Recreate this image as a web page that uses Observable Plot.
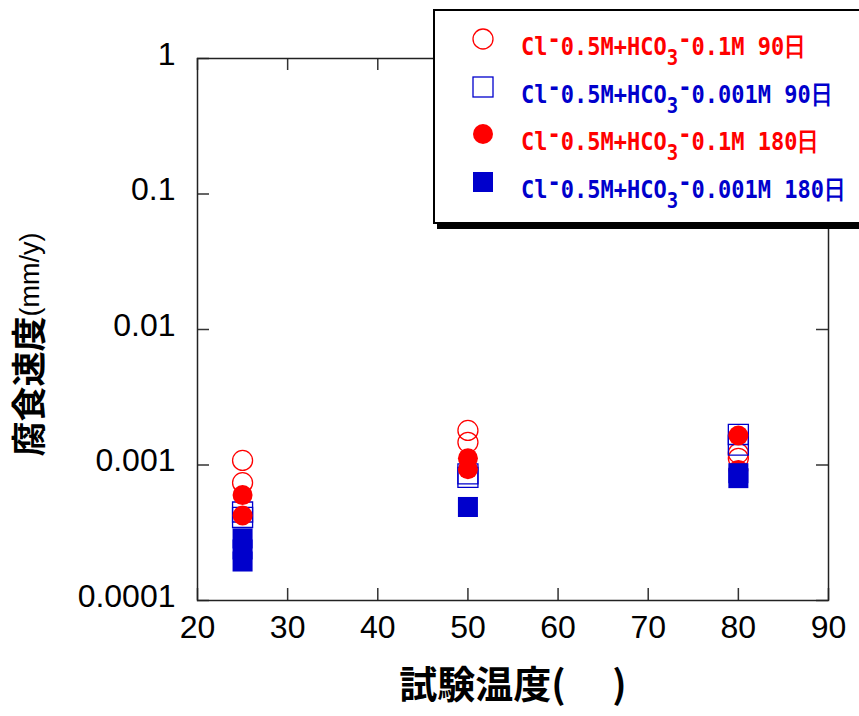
<!DOCTYPE html>
<html>
<head>
<meta charset="utf-8">
<script src="https://cdn.jsdelivr.net/npm/d3@7"></script>
<script src="https://cdn.jsdelivr.net/npm/@observablehq/plot@0.6"></script>
<style>
  body { margin: 0; background: #fff; }
  #wrap { position: relative; width: 859px; height: 716px; overflow: hidden; background: #fff; }
  #legend {
    position: absolute; left: 433px; top: 9px; width: 440px; height: 211px;
    border: 2px solid #000; box-shadow: 4px 5px 0 #000; background: #fff;
  }
  #legend svg { position: absolute; left: 36px; }
  #legend .lab {
    position: absolute; left: 86px; white-space: pre;
    font: bold 22px "DejaVu Sans Mono", monospace; line-height: 22px;
    transform: scaleY(1.15); transform-origin: left center;
  }
  #legend .sup { position: relative; top: -7px; }
  #legend .sub { position: relative; top: 9px; font-size: 19px; }
</style>
</head>
<body>
<div id="wrap"></div>
<script>
// Corrosion rate (mm/y) versus test temperature, two HCO3- concentrations, 90 and 180 days
const RED = "#ff0000";
const BLUE = "#0000cc";

// [temperature (°C), corrosion rate (mm/y)]
const hco01_90d = [[25, 0.00108], [25, 0.00074], [50, 0.0018], [50, 0.00147], [80, 0.00122], [80, 0.00112]];
const hco0001_90d = [[25, 0.00045], [25, 0.00041], [50, 0.00086], [50, 0.00081], [80, 0.00168], [80, 0.0014]];
const hco01_180d = [[25, 0.0006], [25, 0.000424], [50, 0.00112], [50, 0.00093], [80, 0.00165], [80, 0.00092]];
const hco0001_180d = [[25, 0.000287], [25, 0.000238], [25, 0.000194], [50, 0.00049], [80, 0.00087], [80, 0.0008]];

const xTicks = [20, 30, 40, 50, 60, 70, 80, 90];
const yTicks = [0.0001, 0.001, 0.01, 0.1, 1];

const legendConc = ["0.1M", "0.001M", "0.1M", "0.001M"];
const legendDays = ["90日", "90日", "180日", "180日"];
const legendColor = [RED, BLUE, RED, BLUE];
const legendSymbol = ["circle", "square", "circle", "square"];
const legendFilled = [false, false, true, true];

const W = 859, H = 716;
const mL = 197, mR = 31, mT = 58, mB = 116;
const fw = W - mL - mR, fh = H - mT - mB;
const TICK = 12;

const px = d => d[0], py = d => d[1];

const chart = Plot.plot({
  width: W,
  height: H,
  marginLeft: mL, marginRight: mR, marginTop: mT, marginBottom: mB,
  x: {domain: [20, 90]},
  y: {type: "log", domain: [0.0001, 1]},
  style: {fontFamily: "'Liberation Sans', Arial, sans-serif", background: "#fff", color: "#000"},
  marks: [
    // inward ticks on all four sides
    Plot.tickY(yTicks, {y: d => d, insetRight: fw - TICK, stroke: "#333", strokeWidth: 1.5}),
    Plot.tickY(yTicks, {y: d => d, insetLeft: fw - TICK, stroke: "#333", strokeWidth: 1.5}),
    Plot.tickX(xTicks, {x: d => d, insetTop: fh - TICK, stroke: "#333", strokeWidth: 1.5}),
    Plot.tickX(xTicks, {x: d => d, insetBottom: fh - TICK, stroke: "#333", strokeWidth: 1.5}),
    Plot.frame({stroke: "#222", strokeWidth: 1.5}),
    Plot.axisX({ticks: xTicks, tickSize: 0, tickPadding: 15, fontSize: 32, label: null}),
    Plot.axisY({ticks: yTicks, tickSize: 0, tickPadding: 22, fontSize: 32, label: null,
                tickFormat: d => String(d), dy: -4}),
    Plot.dot(hco01_90d, {x: px, y: py, r: 10, stroke: RED, strokeWidth: 1.3, fill: "none"}),
    Plot.dot(hco0001_90d, {x: px, y: py, symbol: "square", r: 11.3, stroke: BLUE, strokeWidth: 1.3, fill: "none"}),
    Plot.dot(hco01_180d, {x: px, y: py, r: 10, fill: RED}),
    Plot.dot(hco0001_180d, {x: px, y: py, symbol: "square", r: 11.3, fill: BLUE}),
    // axis titles
    Plot.text(["腐食速度"], {frameAnchor: "left", rotate: -90, textAnchor: "start", dx: -167, dy: 127,
                             fontSize: 35, fontWeight: "bold", fontFamily: "'Noto Sans CJK JP', sans-serif"}),
    Plot.text(["(mm/y)"], {frameAnchor: "left", rotate: -90, textAnchor: "start", dx: -167, dy: -13,
                           fontSize: 27}),
    Plot.text(["試験温度(\u3000 )"], {frameAnchor: "bottom", dy: 97, fontSize: 38, fontWeight: "bold",
                                  fontFamily: "'Noto Sans CJK JP', sans-serif"})
  ]
});

const wrap = document.getElementById("wrap");
wrap.appendChild(chart);

// legend box overlapping the top-right of the plot
const legend = document.createElement("div");
legend.id = "legend";
wrap.appendChild(legend);
legendConc.forEach((conc, i) => {
  const cy = 28 + i * 47.7;
  const svg = d3.create("svg").attr("width", 24).attr("height", 24).style("top", (cy - 12) + "px");
  const c = legendColor[i];
  const filled = legendFilled[i];
  if (legendSymbol[i] === "circle") {
    svg.append("circle").attr("cx", 12).attr("cy", 12).attr("r", 10)
      .attr("fill", filled ? c : "none").attr("stroke", filled ? "none" : c).attr("stroke-width", 1.3);
  } else {
    svg.append("rect").attr("x", 2).attr("y", 2).attr("width", 20).attr("height", 20)
      .attr("fill", filled ? c : "none").attr("stroke", filled ? "none" : c).attr("stroke-width", 1.3);
  }
  legend.appendChild(svg.node());
  const lab = document.createElement("div");
  lab.className = "lab";
  lab.style.color = c;
  lab.style.top = (cy - 3) + "px";
  lab.innerHTML = `Cl<span class="sup">-</span>0.5M+HCO<span class="sub">3</span><span class="sup">-</span>${conc} ${legendDays[i]}`;
  legend.appendChild(lab);
});
</script>
</body>
</html>
